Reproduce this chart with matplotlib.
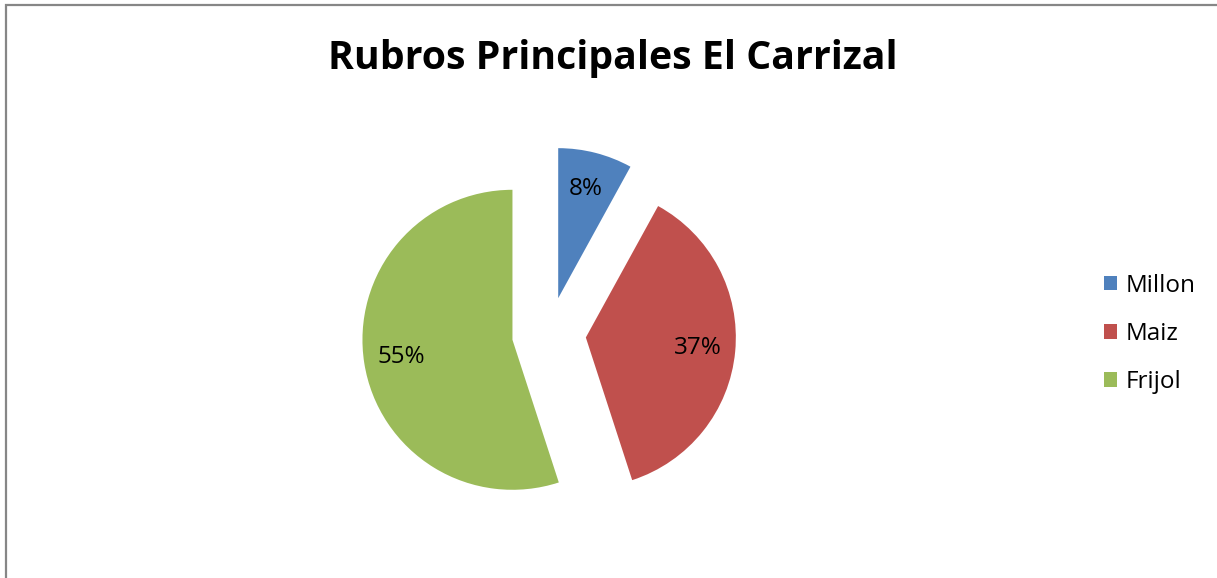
import matplotlib
matplotlib.use("Agg")
import matplotlib.pyplot as plt
from matplotlib.patches import Patch

# data
labels = ["Millon", "Maiz", "Frijol"]
shares = [8, 37, 55]
colors = ["#4F81BD", "#C0504D", "#9BBB59"]
title = "Rubros Principales El Carrizal"

plt.rcParams["font.family"] = ["Open Sans", "DejaVu Sans"]

W, H = 1217, 578
fig = plt.figure(figsize=(W / 100, H / 100), dpi=100)
ax = fig.add_axes([0, 0, 1, 1])

# chart area border (bottom and right run off the picture)
ax.plot([6, 6, W + 10], [-10, H - 5, H - 5], color="#868686", lw=1.6,
        solid_joinstyle="miter")

wedges, texts = ax.pie(
    shares, colors=colors, startangle=90, counterclock=False,
    center=(549, H - 334), radius=150, explode=[37] * 3,
    labels=[f"{v}%" for v in shares], labeldistance=0.75,
    textprops=dict(fontsize=17.5, color="black", ha="center", va="center"),
    frame=True,
)
ax.set_xlim(0, W)
ax.set_ylim(0, H)
ax.set_aspect("equal")
ax.axis("off")

ax.text(613, H - 58, title, fontsize=28.3, fontweight="bold",
        ha="center", va="center")

handles = [Patch(facecolor=c, edgecolor="none") for c in colors]
fig.legend(handles, labels, loc="center left", bbox_to_anchor=(1104 / W, 1 - 334 / H),
           frameon=False, fontsize=17.5, handlelength=0.55, handleheight=0.55,
           handletextpad=0.35, labelspacing=1.0, borderpad=0, borderaxespad=0)

fig.savefig("out.png", dpi=100, facecolor="white")
